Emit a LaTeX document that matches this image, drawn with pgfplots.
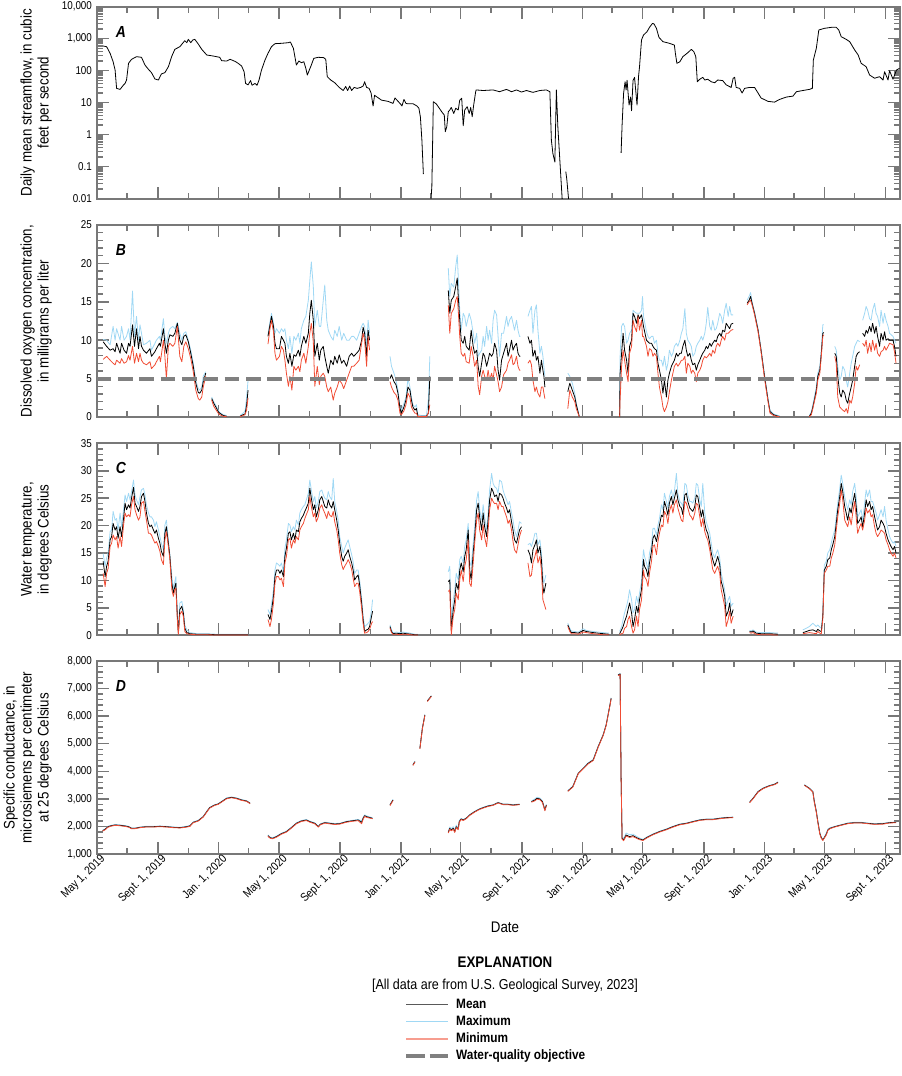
\documentclass[border=0pt]{standalone}
\usepackage{fontspec}
\setmainfont{Liberation Sans}[FakeStretch=0.87]
\usepackage{pgfplots}
\usepackage{pgfplotstable}
\pgfplotsset{compat=1.18}
\definecolor{axisgray}{RGB}{120,120,120}
\definecolor{maxblue}{RGB}{160,216,244}
\definecolor{minred}{RGB}{240,76,52}
\definecolor{objgray}{RGB}{128,128,128}

\pgfplotstableread{
day q
13 590
20 562
27 348
33 191
37 105
40 28
47 26
54 36
57 40
60 51
64 170
70 226
80 274
90 262
97 150
104 110
110 87
117 55
124 51
130 79
137 87
144 133
151 287
157 464
167 562
177 866
181 750
184 953
189 750
193 910
197 953
204 681
211 464
221 309
234 287
247 262
251 205
261 200
268 226
278 195
284 170
291 140
296 93
299 40
304 36
309 49
312 35
318 40
322 35
326 51
331 105
338 215
344 348
351 562
358 698
371 716
385 750
389 785
395 499
398 274
401 150
406 200
411 178
416 190
420 118
423 73
427 105
431 150
436 243
445 262
456 255
460 226
463 65
470 51
478 42
487 30
495 24
500 32
504 24
508 33
512 24
517 30
523 28
530 30
535 33
538 45
542 30
547 28
551 20
555 7.9
558 17
563 15
572 12
585 11
595 9.5
599 14
603 12
610 9.1
613 7.9
617 12.6
621 9.5
625 9.2
635 9.3
643 7.9
647 6.7
650 3.6
653 0.68
656 0.059
nan nan
671 0.008
673 0.024
676 10.7
682 9.1
688 6.7
694 4.9
698 4.1
700 1.24
703 1.78
706 5.2
709 5.9
712 7.1
717 4.6
721 6.7
726 5.9
729 12
733 13.7
736 1.9
739 5.9
744 7.5
748 4.6
751 7.1
754 3.65
757 8.4
761 22
762 25
776 24
796 25
809 22
823 26
833 22
843 25
853 21.5
863 24
876 21
890 24
903 25
910 22
913 0.68
916 0.26
920 0.14
923 25
926 1.78
930 0.16
935 0.008
nan nan
942 0.07
944 0.04
948 0.008
nan nan
1053 0.27
1055 2.0
1058 19.6
1061 45
1063 25
1065 50
1069 8.4
1072 15
1074 5.6
1077 50
1080 62
1085 8.4
1088 65
1090 133
1094 910
1098 1300
1105 1650
1110 2260
1116 3000
1119 2900
1124 2100
1129 1100
1137 806
1150 716
1160 630
1162 348
1165 170
1171 190
1177 274
1187 365
1194 464
1199 393
1203 274
1206 45
1211 54
1217 62
1221 51
1227 54
1234 45
1241 42
1247 51
1257 49
1264 36
1274 30
1278 58
1281 62
1284 30
1291 28
1296 20
1301 28
1311 30
1321 30
1328 20
1334 14
1348 11
1361 10.4
1371 12.6
1385 15
1398 16
1405 22
1418 24
1431 26
1437 28
1439 215
1445 499
1450 1870
1461 2100
1475 2260
1485 2260
1490 1870
1495 1150
1505 953
1512 806
1522 443
1529 309
1535 170
1545 133
1552 73
1562 58
1572 65
1579 51
1582 93
1589 51
1592 100
1599 54
1606 105
1612 118
}\tabA

\pgfplotstableread{
day mean max min
13 9.8 10.1 7.5
20 9.2 10.0 7.9
27 8.7 9.4 7.4
33 8.9 11.8 7.0
37 8.5 10.0 6.8
40 9.6 11.5 7.4
47 8.3 10.0 7.0
50 9.6 11.8 7.6
55 8.7 10.0 7.0
60 8.3 10.5 7.2
64 9.6 11.5 8.0
67 9.2 10.0 7.4
72 12.0 16.4 9.2
76 9.2 10.5 7.0
80 11.5 13.1 8.3
84 8.9 10.0 7.2
87 10.5 12.0 8.3
90 9.2 10.9 7.4
94 8.7 9.4 7.0
100 8.3 9.6 6.8
107 8.9 10.0 7.2
110 7.9 8.7 6.3
117 8.5 9.6 6.8
120 8.9 10.0 7.2
126 9.6 10.5 7.9
128 9.2 10.0 7.2
134 11.5 12.8 10.0
137 9.6 10.5 7.9
140 8.3 9.6 5.0
144 10.0 10.9 9.2
147 10.7 11.5 9.6
153 10.5 11.8 9.2
157 10.9 11.5 9.6
162 12.2 12.3 11.8
167 10.0 10.9 7.9
171 9.4 10.0 7.2
175 10.5 10.9 9.2
179 10.7 11.1 9.8
184 9.8 10.0 8.9
189 8.3 8.7 7.6
194 6.6 7.0 5.9
199 4.4 4.8 3.5
204 3.2 3.7 2.4
207 3.1 3.5 2.2
211 3.5 3.9 2.6
214 4.6 5.3 3.9
219 5.7 5.9 5.3
nan nan nan nan
231 2.4 2.6 2.2
235 1.8 2.0 1.4
241 1.1 1.3 0.8
244 0.7 0.9 0.5
247 0.5 0.6 0.3
254 0.2 0.3 0.1
261 0.1 0.2 0.05
nan nan nan nan
288 0.1 0.2 0.05
294 0.3 0.5 0.2
298 0.4 0.8 0.3
301 1.5 2.5 0.9
304 3.5 4.8 2.5
nan nan nan nan
344 10.5 10.7 9.5
348 12.0 12.4 11.5
351 13.1 13.5 12.6
355 11.8 12.2 11.1
358 9.6 10.9 8.3
361 8.9 11.5 7.4
367 8.9 10.9 7.9
371 10.5 11.5 9.2
375 10.0 11.1 8.7
378 9.6 11.5 7.4
381 7.9 10.0 5.7
385 7.0 8.9 4.0
388 8.3 10.5 5.3
392 6.6 8.3 3.5
396 8.1 10.5 6.6
400 7.9 10.0 6.1
405 8.7 10.9 6.6
408 7.9 9.6 5.9
411 9.2 11.5 7.4
416 10.5 12.6 8.3
420 9.6 13.1 7.0
425 10.9 15.2 9.2
428 13.5 17.8 10.9
431 15.2 20.2 12.2
435 12.6 17.0 9.8
438 7.9 11.8 4.0
443 9.6 13.9 6.6
447 7.4 11.8 4.2
450 8.7 11.8 5.3
455 9.2 15.2 5.7
458 7.9 17.2 5.3
462 6.6 12.6 3.9
465 5.7 11.3 3.3
470 7.4 10.5 3.9
475 6.8 10.0 2.2
478 7.9 11.3 3.1
483 7.0 10.5 3.9
487 8.1 11.8 4.8
492 7.0 10.0 4.4
496 7.4 10.9 3.7
502 6.6 10.0 4.8
507 7.9 10.0 5.7
512 8.3 10.5 6.6
516 7.9 10.5 6.6
522 8.3 10.0 7.0
527 8.7 10.9 7.4
532 10.0 11.8 9.6
535 11.7 12.2 10.9
538 10.9 11.8 10.0
542 7.9 9.2 6.6
545 11.3 12.6 10.5
548 10.0 10.9 8.7
nan nan nan nan
589 5.0 7.9 4.6
592 5.5 6.6 3.9
597 4.6 5.7 3.2
601 4.2 4.8 2.9
605 3.1 3.5 2.2
609 1.1 1.3 0.5
612 0.5 0.9 0.3
617 1.3 1.8 0.8
621 2.2 2.6 1.6
625 3.9 5.0 3.1
629 3.5 3.9 2.6
632 2.2 2.6 1.3
635 1.3 1.6 0.9
639 0.9 1.3 0.5
642 1.1 1.6 0.5
645 0.1 0.3 0.05
652 0.1 0.2 0.05
662 0.1 0.2 0.05
666 0.5 2.2 0.5
669 5.3 7.9 1.6
nan nan nan nan
706 16.5 19.4 14.6
709 13.5 15.7 10.9
712 15.2 17.4 13.5
717 15.7 16.9 14.1
721 17.0 19.6 15.2
724 18.1 21.1 15.7
726 15.7 18.3 13.9
729 12.6 13.9 10.5
732 10.0 11.3 8.3
736 9.6 13.5 7.9
739 10.5 13.1 8.3
742 9.2 11.8 7.2
748 8.7 13.5 7.0
752 11.3 12.6 9.2
756 9.2 10.9 7.9
759 8.3 9.6 6.6
763 8.7 10.9 7.4
766 6.6 7.9 4.0
769 5.3 8.3 2.9
773 7.0 8.7 5.3
776 8.3 10.5 6.1
779 7.9 9.2 5.3
783 6.6 11.8 4.8
786 7.4 10.0 6.1
789 8.3 11.3 4.8
793 7.9 9.6 5.7
796 8.3 12.6 4.8
799 9.6 13.9 6.6
803 8.7 13.3 5.5
806 6.1 10.5 4.6
809 4.8 7.9 3.3
813 7.4 10.9 3.9
817 8.3 10.9 5.5
823 9.6 13.1 6.1
826 7.9 11.8 7.0
829 8.7 12.6 7.4
833 10.0 13.1 8.1
836 8.7 12.2 6.8
839 9.2 11.3 7.0
843 9.6 12.6 7.9
846 8.3 11.3 6.6
849 7.9 10.5 6.1
851 7.9 10.5 6.1
nan nan nan nan
866 10.5 13.1 7.0
870 9.6 13.9 7.4
873 10.0 14.4 6.8
876 7.9 10.9 4.8
880 8.7 13.9 3.3
883 7.4 14.6 3.9
886 7.9 11.3 3.1
890 5.7 8.3 2.6
893 7.4 9.2 3.9
896 6.1 7.9 3.9
898 5.3 6.6 3.1
900 3.9 5.3 2.4
nan nan nan nan
946 3.3 5.7 1.1
950 4.4 5.3 3.5
955 3.5 4.4 2.6
960 2.6 3.1 2.0
963 1.6 1.8 1.1
969 0.05 0.1 0.05
nan nan nan nan
1050 0.05 0.1 0.05
1051 5.7 7.9 2.2
1054 8.3 11.8 6.6
1057 10.9 12.2 8.7
1060 8.7 11.8 7.4
1064 7.4 9.6 5.7
1067 5.7 10.0 4.6
1070 9.2 10.9 8.3
1074 10.0 11.3 9.2
1077 13.5 13.9 12.6
1080 13.1 13.7 11.8
1084 12.2 13.5 11.1
1087 13.3 13.5 13.1
1090 12.8 13.5 11.3
1094 13.3 13.9 12.6
1096 12.6 15.7 10.5
1098 11.8 13.1 10.5
1104 10.0 11.1 9.2
1107 9.8 10.5 7.9
1110 9.6 10.2 8.9
1114 9.6 10.5 8.7
1117 9.2 10.5 7.9
1120 8.9 9.6 8.3
1124 8.7 10.0 7.9
1127 7.0 8.3 5.7
1130 6.1 7.4 3.9
1134 4.8 7.4 2.6
1137 3.1 6.6 1.3
1140 4.8 7.9 0.7
1144 2.6 6.1 1.3
1147 4.8 7.0 2.0
1150 5.7 8.7 3.3
1154 6.6 7.9 4.8
1157 7.0 8.3 5.7
1160 7.4 9.2 6.6
1164 8.3 9.6 7.0
1167 7.9 9.2 6.6
1171 8.3 10.0 7.0
1174 8.3 10.9 7.4
1177 9.2 11.5 7.4
1181 10.0 14.1 7.9
1184 8.7 10.9 5.7
1187 7.9 10.0 7.0
1191 8.3 9.6 6.6
1194 7.4 9.2 5.7
1197 6.8 7.9 6.1
1201 7.0 8.3 5.7
1204 6.1 9.2 4.6
1207 6.8 9.6 5.7
1211 7.4 10.0 6.1
1214 7.9 10.5 6.6
1217 8.3 10.0 7.4
1221 8.7 10.9 7.9
1224 9.2 12.2 7.7
1227 8.9 14.3 7.9
1231 9.6 11.8 8.3
1234 9.2 11.3 7.9
1237 9.6 12.6 8.7
1241 10.0 11.3 8.3
1244 9.8 11.5 9.2
1247 10.5 12.2 9.6
1251 10.9 13.5 9.2
1254 10.5 13.1 10.0
1257 11.3 12.2 10.5
1261 11.1 13.9 10.0
1264 12.2 14.8 10.9
1268 11.8 13.1 10.9
1271 11.5 14.4 11.1
1274 12.1 13.3 11.3
1278 12.2 13.3 11.4
nan nan nan nan
1306 14.8 15.2 14.6
1310 15.2 15.7 15.0
1313 15.7 16.2 15.2
1316 14.8 15.0 14.6
1321 13.5 13.7 13.3
1328 11.3 11.5 11.1
1334 8.7 8.9 8.5
1341 5.3 5.5 5.0
1348 2.2 2.4 2.0
1352 0.7 0.9 0.5
1359 0.3 0.4 0.2
1368 0.1 0.2 0.05
1371 0.1 0.2 0.05
nan nan nan nan
1431 0.1 0.2 0.05
1435 0.5 0.7 0.3
1438 1.3 1.6 1.1
1441 2.2 2.6 2.0
1445 3.5 3.9 3.1
1448 5.3 5.7 4.8
1452 6.1 6.6 5.7
1455 8.3 8.7 7.9
1458 10.9 12.0 10.5
1460 11.0 12.0 10.7
nan nan nan nan
1482 8.3 9.2 7.9
1485 7.9 8.7 7.0
1488 5.3 6.6 2.6
1492 3.1 4.8 1.3
1495 2.6 5.3 1.1
1498 3.5 6.6 0.9
1502 3.1 6.1 0.7
1505 2.2 4.8 1.1
1508 1.8 3.9 0.5
1512 3.1 5.7 2.2
1515 3.9 7.0 1.8
1518 4.8 7.9 2.6
1522 6.6 9.2 4.4
1525 7.9 9.6 6.6
1528 8.3 10.0 6.1
1532 8.5 9.8 6.8
nan nan nan nan
1538 10.9 12.6 9.6
1542 10.5 13.5 9.2
1545 11.3 14.4 10.0
1548 10.9 13.9 8.3
1552 11.8 12.8 9.6
1555 11.1 12.6 8.5
1558 12.2 13.9 10.0
1562 10.9 14.8 8.7
1565 11.8 13.5 9.6
1568 10.5 13.1 8.3
1572 9.2 11.8 7.9
1575 10.9 13.9 8.5
1579 10.0 12.2 8.7
1582 11.1 13.5 9.2
1585 10.0 12.6 8.7
1589 10.2 11.8 9.2
1592 10.0 10.9 9.6
1599 10.0 10.5 9.4
1602 9.2 10.0 8.5
1605 7.9 9.6 7.0
}\tabB

\pgfplotstableread{
day mean max min
13 13.5 14.9 11.3
17 10.7 12.6 8.9
20 12.6 14.1 11.3
23 13.5 15.0 12.2
27 17.4 18.9 16.2
30 18.0 19.2 16.8
33 20.4 22.6 18.3
37 19.2 21.0 17.4
40 19.8 21.3 18.0
43 17.7 19.2 15.9
47 19.8 22.3 18.0
50 18.0 19.8 16.2
54 21.3 22.9 20.1
57 24.1 25.6 22.3
60 22.9 24.4 21.6
64 23.8 25.9 22.0
67 23.2 24.7 21.6
70 25.0 26.2 23.8
74 27.0 28.3 25.3
77 24.1 25.6 22.9
80 23.5 24.7 22.0
84 22.6 23.8 21.0
87 23.5 25.3 21.6
90 25.3 26.5 24.1
94 25.9 26.8 24.4
97 24.4 25.6 22.6
100 22.3 23.8 21.0
104 20.4 22.3 18.6
107 19.8 21.6 18.6
110 20.1 21.6 18.3
114 19.2 21.0 17.4
117 18.6 19.8 16.8
120 19.2 20.7 17.1
124 17.7 19.2 16.2
127 16.8 18.0 15.3
130 15.3 16.8 13.8
134 14.4 15.6 12.9
137 18.6 20.1 17.4
140 19.8 21.0 18.9
144 16.8 17.4 16.2
147 14.4 14.7 13.8
151 9.5 10.7 8.3
154 7.7 8.6 7.1
157 8.9 9.8 8.3
159 9.5 10.7 8.6
162 3.5 3.8 2.9
164 0.4 1.0 0.2
167 4.7 5.9 3.8
171 5.3 6.2 4.4
174 4.1 4.7 3.5
177 1.3 1.9 0.7
181 0.5 1.0 0.3
187 0.3 0.5 0.2
201 0.2 0.3 0.1
221 0.2 0.3 0.1
241 0.1 0.2 0.06
274 0.1 0.2 0.06
304 0.1 0.2 0.06
nan nan nan nan
344 3.8 4.7 2.9
348 2.9 3.8 1.6
351 4.4 5.6 2.9
355 7.1 8.3 5.9
358 10.7 11.9 9.5
361 11.9 13.2 10.7
365 11.9 12.9 10.7
368 11.3 12.6 10.1
371 11.9 13.2 10.4
375 10.7 11.6 8.9
378 14.4 15.9 13.2
381 15.9 17.4 14.4
385 18.6 20.4 17.4
388 18.9 20.1 17.7
391 17.4 18.9 15.9
395 18.6 19.8 17.4
398 17.4 19.2 16.8
401 19.2 21.0 18.0
405 18.9 20.1 17.4
408 20.7 22.3 19.2
411 21.3 22.9 19.8
415 21.9 23.5 20.4
418 22.6 23.8 21.3
421 23.2 24.7 22.0
425 24.1 25.9 22.9
428 26.8 28.3 25.3
431 25.0 26.5 23.5
435 22.9 24.4 21.6
438 23.8 25.3 22.3
441 21.6 23.2 20.7
445 22.9 24.4 21.6
448 24.7 26.2 23.2
452 25.3 26.5 23.8
455 24.4 25.6 22.9
458 23.5 25.0 22.3
462 23.2 24.7 21.3
465 24.7 26.2 22.6
468 23.8 25.3 21.9
472 23.2 24.7 21.6
475 24.4 28.6 22.6
478 22.9 24.4 20.7
482 21.0 22.6 19.2
485 19.2 21.0 17.4
488 16.8 18.0 15.0
492 14.4 16.2 12.9
495 13.5 15.0 12.0
498 14.4 15.9 12.6
502 15.0 16.8 13.2
505 15.6 17.4 13.8
508 14.4 16.2 13.2
512 13.2 14.7 12.0
515 11.9 13.4 10.4
518 10.1 11.3 8.9
522 10.7 11.9 9.5
525 11.0 11.9 9.5
528 9.2 10.1 8.0
532 5.9 6.8 5.0
535 2.9 3.5 2.2
538 0.7 1.6 0.4
542 1.0 1.9 0.5
545 1.1 2.2 0.7
548 1.6 2.5 1.1
552 3.5 4.7 2.2
554 4.4 6.5 2.5
nan nan nan nan
589 1.6 1.9 1.3
592 0.7 1.0 0.5
595 0.3 0.5 0.2
602 0.4 0.6 0.2
609 0.3 0.5 0.1
615 0.4 0.6 0.2
622 0.3 0.5 0.2
629 0.24 0.4 0.1
639 0.1 0.2 0.06
645 0.1 0.2 0.06
nan nan nan nan
706 9.8 11.6 8.0
709 10.1 12.6 8.3
712 1.0 2.2 0.1
716 4.7 6.5 3.5
719 6.5 8.3 4.7
722 9.5 11.3 7.7
726 8.3 10.1 6.5
729 11.9 13.8 10.1
732 13.2 14.4 11.9
736 11.6 13.2 9.8
739 14.4 16.2 12.6
742 15.6 17.4 13.8
746 19.2 20.4 17.4
749 11.9 13.4 9.5
752 10.1 12.6 8.9
756 15.0 16.8 13.2
759 18.0 19.8 16.8
763 22.9 24.7 21.0
766 24.1 26.2 22.3
769 21.6 22.9 19.2
773 19.2 21.0 17.4
776 22.3 23.8 20.1
779 19.8 21.6 17.9
783 18.0 19.2 16.2
786 21.0 22.3 19.2
789 24.7 26.5 22.9
793 26.8 29.5 25.0
796 26.2 27.7 24.4
799 25.3 27.1 24.0
803 25.6 26.8 24.1
806 24.4 25.9 22.9
809 25.9 28.3 24.4
813 25.6 28.0 23.5
816 25.0 26.5 23.5
819 24.1 25.6 22.6
823 23.2 24.7 21.6
826 22.3 23.8 20.4
829 22.9 24.4 21.0
833 20.7 22.3 19.2
836 19.2 21.0 17.1
839 17.4 19.2 15.6
843 16.8 18.0 15.0
846 18.0 19.2 16.5
849 19.2 20.7 18.0
853 19.8 20.4 19.2
nan nan nan nan
866 15.6 16.5 13.2
870 14.7 16.8 10.7
873 13.2 16.2 11.0
876 15.6 17.1 13.2
880 16.5 18.6 14.4
883 17.4 18.6 15.6
886 15.0 16.5 13.2
890 16.2 17.4 14.4
893 13.8 15.0 11.9
896 8.9 10.7 6.5
898 7.7 9.5 5.9
902 9.5 11.0 4.7
nan nan nan nan
946 1.9 2.2 1.6
950 1.0 1.3 0.7
953 0.5 0.8 0.3
960 0.5 0.7 0.3
967 0.4 0.6 0.2
977 0.9 1.2 0.6
983 0.7 0.9 0.5
997 0.5 0.7 0.3
1017 0.3 0.5 0.1
1029 0.2 0.4 0.1
nan nan nan nan
1050 0.3 0.7 0.1
1054 1.0 1.6 0.3
1057 1.6 2.9 0.4
1060 2.5 4.1 1.3
1064 3.5 5.3 1.6
1067 4.7 6.5 2.9
1070 5.9 8.3 3.5
1074 4.1 6.5 1.6
1077 1.6 4.1 0.4
1080 2.9 4.7 1.0
1084 5.3 7.1 3.5
1087 4.1 5.9 1.6
1090 6.5 7.7 4.7
1094 8.3 9.8 6.5
1096 11.3 13.2 9.5
1098 13.8 15.6 11.9
1100 12.6 14.4 10.7
1104 11.9 13.2 10.1
1107 10.7 11.9 8.9
1110 13.2 15.0 11.3
1114 15.3 16.5 13.5
1117 17.7 19.5 16.2
1120 18.3 19.5 16.5
1124 17.1 18.3 14.7
1127 18.6 20.1 17.1
1130 20.1 21.3 18.6
1134 21.9 23.8 20.1
1137 21.6 22.9 19.8
1140 24.4 25.9 22.6
1144 23.2 24.4 21.9
1147 21.9 23.2 20.4
1150 24.1 25.3 22.6
1154 25.3 26.5 23.8
1157 23.8 25.0 22.3
1160 25.0 26.2 23.8
1164 26.5 29.5 24.7
1167 24.7 25.9 23.2
1171 23.5 24.4 21.9
1174 23.2 24.1 21.0
1177 22.0 23.5 20.7
1181 25.6 27.7 24.4
1184 25.9 27.4 24.1
1187 24.4 25.6 23.2
1191 23.2 24.4 21.9
1194 22.9 24.4 21.6
1197 22.6 24.1 21.0
1201 23.5 25.0 22.3
1204 25.6 27.7 24.1
1207 25.3 27.4 23.8
1211 23.2 24.7 21.6
1214 21.6 23.5 19.8
1217 22.9 27.7 21.3
1221 20.4 22.3 18.9
1224 19.2 20.7 18.0
1227 18.6 19.8 17.4
1231 16.8 18.6 15.6
1234 15.0 16.8 13.8
1237 13.8 15.0 12.0
1241 12.6 14.1 11.3
1244 13.5 15.0 12.0
1247 14.4 15.6 12.6
1251 12.9 14.1 11.3
1254 9.8 11.3 8.3
1257 8.9 10.1 7.1
1261 7.1 8.3 5.3
1264 3.5 5.3 1.6
1268 4.4 6.5 2.9
1271 5.9 7.1 4.4
1274 3.5 5.3 2.2
1278 4.7 5.9 3.5
nan nan nan nan
1311 0.7 0.9 0.5
1314 0.6 0.8 0.4
1318 0.8 1.0 0.5
1324 0.4 0.6 0.2
1334 0.3 0.5 0.1
1351 0.3 0.5 0.1
1368 0.2 0.4 0.06
nan nan nan nan
1418 0.5 1.0 0.3
1425 0.7 1.3 0.4
1431 0.9 1.6 0.5
1438 1.0 2.2 0.4
1445 0.7 1.6 0.3
1448 1.1 1.9 0.7
1452 0.8 1.5 0.4
1455 0.7 1.3 0.3
1458 3.5 3.8 2.9
1461 11.9 12.8 11.3
1465 12.6 13.5 11.9
1468 13.8 15.0 12.6
1472 14.1 15.6 12.6
1475 15.6 16.8 14.1
1478 16.5 18.0 14.9
1482 18.0 19.2 16.5
1485 20.4 21.6 19.2
1488 22.9 24.1 21.6
1492 25.3 26.8 24.1
1495 27.7 29.2 26.5
1498 26.2 27.7 24.7
1502 23.5 25.3 21.0
1505 22.3 24.1 20.4
1508 21.0 22.9 19.8
1512 23.2 24.7 21.6
1515 22.3 23.8 20.1
1518 24.1 26.2 22.3
1522 25.9 27.7 24.4
1525 23.5 25.3 21.6
1528 20.4 21.6 18.6
1532 21.0 22.3 19.8
1535 21.6 22.9 20.4
1538 19.8 21.0 19.2
1542 22.3 24.1 21.0
1545 24.7 26.5 23.2
1548 23.5 25.3 22.3
1552 24.4 26.5 22.9
1555 22.9 24.4 21.6
1558 23.5 24.4 22.0
1562 21.6 23.2 19.8
1565 20.4 22.3 18.6
1568 19.2 21.0 18.0
1572 19.8 22.0 18.6
1575 21.0 22.9 19.2
1579 20.4 21.6 18.9
1582 19.8 23.5 18.6
1585 18.6 21.0 17.4
1589 17.4 19.2 16.5
1592 16.8 18.0 15.6
1595 16.2 17.4 15.0
1599 15.6 16.8 14.4
1602 16.2 17.1 15.0
1605 15.0 16.2 14.1
}\tabC

\pgfplotstableread{
day mean max min
12 1846 1870 1830
17 1895 1915 1880
23 1991 2010 1975
30 2028 2045 2015
37 2052 2070 2040
47 2040 2055 2025
57 2016 2030 2000
64 1991 2005 1975
70 1931 1945 1915
77 1931 1945 1920
87 1967 1980 1955
100 1991 2005 1980
114 1991 2005 1980
127 2003 2015 1990
140 1991 2005 1980
154 1967 1980 1955
167 1955 1970 1945
177 1979 1995 1965
187 2016 2030 2000
194 2149 2165 2135
204 2209 2225 2195
214 2354 2370 2340
221 2535 2550 2520
227 2680 2695 2665
237 2777 2790 2765
244 2813 2825 2800
251 2898 2910 2885
261 3019 3035 3005
271 3055 3070 3040
281 3019 3035 3005
291 2959 2975 2945
301 2922 2935 2910
308 2838 2850 2825
nan nan nan nan
344 1665 1690 1645
348 1592 1615 1575
353 1568 1590 1550
361 1629 1650 1610
371 1737 1755 1720
381 1810 1830 1795
391 1955 1975 1940
401 2112 2130 2095
411 2197 2215 2180
421 2233 2250 2215
428 2173 2190 2155
438 2112 2130 2095
445 1991 2010 1975
449 2076 2095 2060
458 2136 2155 2120
468 2112 2130 2095
478 2088 2105 2070
488 2100 2115 2085
502 2173 2190 2155
515 2209 2225 2190
525 2233 2255 2210
532 2149 2200 2100
535 2294 2330 2260
538 2390 2420 2360
542 2354 2380 2330
549 2318 2340 2300
554 2294 2310 2280
nan nan nan nan
589 2777 2800 2755
595 2959 2980 2940
nan nan nan nan
635 4228 4245 4210
639 4349 4365 4330
nan nan nan nan
649 4832 4850 4815
654 5558 5575 5540
659 6042 6060 6025
nan nan nan nan
664 6549 6565 6530
672 6731 6745 6715
nan nan nan nan
706 1786 1830 1760
709 1931 1980 1900
712 1870 1920 1840
716 1931 1990 1900
719 1810 1860 1780
722 1991 2050 1960
726 1907 1950 1880
728 2173 2210 2150
732 2270 2290 2250
736 2233 2250 2215
742 2294 2310 2280
749 2415 2430 2400
759 2535 2550 2520
769 2632 2645 2620
776 2680 2695 2665
786 2741 2755 2725
796 2777 2790 2765
806 2862 2875 2850
816 2801 2815 2790
826 2801 2815 2790
836 2777 2790 2765
849 2801 2815 2790
nan nan nan nan
873 2898 2920 2880
880 2959 3000 2930
884 3019 3060 2990
890 2995 3030 2970
895 2898 2930 2870
900 2596 2620 2570
903 2777 2800 2755
nan nan nan nan
946 3285 3300 3270
956 3442 3460 3425
967 3926 3945 3910
977 4107 4125 4090
987 4289 4310 4270
997 4410 4430 4390
1007 4893 4915 4875
1017 5316 5335 5300
1023 5679 5700 5660
1030 6344 6365 6325
1033 6646 6665 6630
nan nan nan nan
1047 7492 7510 7470
1051 7529 7545 7510
1053 3744 3800 3700
1055 1568 1620 1540
1058 1508 1560 1480
1063 1689 1760 1650
1070 1629 1700 1600
1077 1665 1720 1630
1084 1592 1640 1570
1090 1544 1580 1520
1097 1508 1530 1490
1104 1592 1610 1575
1117 1713 1730 1700
1130 1810 1825 1795
1144 1895 1910 1880
1157 1991 2005 1975
1171 2076 2090 2060
1184 2112 2125 2100
1197 2173 2185 2160
1211 2233 2245 2220
1224 2257 2270 2245
1237 2257 2270 2245
1251 2294 2305 2280
1264 2318 2330 2305
1278 2330 2340 2320
nan nan nan nan
1311 2874 2890 2860
1318 3019 3035 3005
1328 3261 3275 3245
1338 3382 3395 3370
1351 3478 3490 3465
1361 3527 3540 3515
1368 3600 3615 3585
nan nan nan nan
1421 3503 3515 3490
1431 3382 3395 3370
1438 3261 3280 3245
1441 2898 2930 2870
1445 2535 2560 2510
1448 2173 2200 2150
1452 1750 1780 1725
1455 1592 1615 1570
1458 1508 1525 1490
1461 1592 1615 1575
1465 1713 1760 1690
1468 1870 1900 1850
1472 1931 1950 1915
1482 1991 2005 1980
1495 2052 2065 2040
1508 2112 2125 2100
1522 2136 2150 2125
1535 2136 2150 2125
1548 2112 2125 2100
1562 2088 2100 2075
1579 2100 2115 2085
1592 2136 2150 2125
1605 2149 2160 2135
}\tabD

\pgfplotsset{
  panel/.style={
    scale only axis, width=602.5pt, height=144pt,
    xmin=0, xmax=1613,
    xtick={0,123,245,366,489,611,731,854,976,1096,1219,1341,1461,1584},
    minor xtick={61,184,305,427,550,670,792,915,1035,1157,1280,1400,1522},
    xticklabels={},
    xtick pos=both, ytick pos=both, tick align=inside,
    axis line style={axisgray, line width=1.3pt},
    tick style={axisgray, line width=1.1pt},
    major tick length=9pt, minor tick length=4.5pt,
    tick label style={font=\fontsize{8.5}{9.5}\selectfont},
    /pgf/number format/assume math mode=true,
    ylabel style={align=center, font=\fontsize{11.5}{12.75}\selectfont,
      at={(axis description cs:-0.05,0.5)}, anchor=south},
    unbounded coords=jump,
    every axis plot/.append style={line join=round},
  },
  sermax/.style={maxblue, line width=0.6pt},
  sermean/.style={black, line width=0.6pt},
  sermin/.style={minred, line width=0.6pt},
}
\newcommand{\panellabel}[1]{\node[anchor=west, font=\bfseries\itshape\fontsize{12}{12}\selectfont] at (axis description cs:0.018,0.87) {#1};}

\begin{document}
\begin{tikzpicture}
\path[use as bounding box] (0pt,0pt) rectangle (675.75pt,-807pt);

% Panel A
\begin{axis}[panel, at={(72.5pt,-5pt)}, anchor=north west,
  ymode=log, ymin=0.01, ymax=10000,
  ytick={0.01,0.1,1,10,100,1000,10000},
  yticklabels={0.01,0.1,1,10,100,{1,000},{10,000}},
  minor ytick={0.02,0.03,0.04,0.05,0.06,0.07,0.08,0.09,0.2,0.3,0.4,0.5,0.6,0.7,0.8,0.9,2,3,4,5,6,7,8,9,20,30,40,50,60,70,80,90,200,300,400,500,600,700,800,900,2000,3000,4000,5000,6000,7000,8000,9000},
  ylabel={Daily mean streamflow, in cubic\\feet per second}]
\addplot[black, line width=0.6pt] table[x=day, y=q] {\tabA};
\panellabel{A}
\end{axis}

% Panel B
\begin{axis}[panel, at={(72.5pt,-168.75pt)}, anchor=north west,
  ymin=0, ymax=25, ytick={0,5,...,25}, minor y tick num=4,
  ylabel={Dissolved oxygen concentration,\\in milligrams per liter}]
\addplot[sermax] table[x=day, y=max] {\tabB};
\addplot[sermean] table[x=day, y=mean] {\tabB};
\addplot[sermin] table[x=day, y=min] {\tabB};
\addplot[objgray, line width=3pt, dash pattern=on 11pt off 5pt] coordinates {(0,5) (1613,5)};
\panellabel{B}
\end{axis}

% Panel C
\begin{axis}[panel, at={(72.5pt,-332.5pt)}, anchor=north west,
  ymin=0, ymax=35, ytick={0,5,...,35}, minor y tick num=4,
  ylabel={Water temperature,\\in degrees Celsius}]
\addplot[sermax] table[x=day, y=max] {\tabC};
\addplot[sermean] table[x=day, y=mean] {\tabC};
\addplot[sermin] table[x=day, y=min] {\tabC};
\panellabel{C}
\end{axis}

% Panel D
\begin{axis}[panel, at={(72.5pt,-495.75pt)}, anchor=north west, height=144.75pt,
  ymin=1000, ymax=8000, ytick={1000,2000,...,8000},
  yticklabels={{1,000},{2,000},{3,000},{4,000},{5,000},{6,000},{7,000},{8,000}},
  minor y tick num=4,
  xticklabels={{May 1, 2019},{Sept. 1, 2019},{Jan. 1, 2020},{May 1, 2020},{Sept. 1, 2020},{Jan. 1, 2021},{May 1, 2021},{Sept. 1, 2021},{Jan. 1, 2022},{May 1, 2022},{Sept. 1, 2022},{Jan. 1, 2023},{May 1, 2023},{Sept. 1, 2023}},
  xticklabel style={rotate=45, anchor=north east, font=\fontsize{8.8}{9.5}\selectfont, inner sep=1pt, xshift=3pt},
  xlabel={Date},
  xlabel style={at={(axis description cs:0.5083,-0.378)}, anchor=center, font=\fontsize{11.5}{12}\selectfont},
  ylabel={Specific conductance, in\\microsiemens per centimeter\\at 25 degrees Celsius},
  legend style={at={(axis description cs:0.3825,-0.7358)}, anchor=north west,
    draw=none, fill=none, inner sep=0pt, row sep=0pt, column sep=2.5pt,
    font=\bfseries\fontsize{10.2}{11}\selectfont},
  legend cell align=left,
  legend image code/.code={\draw[#1] (0pt,0pt) -- (31.5pt,0pt);}]
\addplot[sermax, forget plot] table[x=day, y=max] {\tabD};
\addplot[sermean, forget plot] table[x=day, y=mean] {\tabD};
\addplot[sermin, forget plot] table[x=day, y=min] {\tabD};
\addlegendimage{black!65, line width=1.2pt}
\addlegendentry{Mean}
\addlegendimage{maxblue, line width=1.2pt}
\addlegendentry{Maximum}
\addlegendimage{minred!55, line width=1.2pt}
\addlegendentry{Minimum}
\addlegendimage{objgray, line width=3pt, dash pattern=on 14pt off 3.5pt}
\addlegendentry{Water-quality objective}
\panellabel{D}
\end{axis}

\node[font=\bfseries\fontsize{11.5}{12}\selectfont] at (378.75pt,-721.5pt) {EXPLANATION};
\node[font=\fontsize{10.8}{12}\selectfont] at (378.75pt,-739.5pt) {[All data are from U.S. Geological Survey, 2023]};
\end{tikzpicture}
\end{document}
